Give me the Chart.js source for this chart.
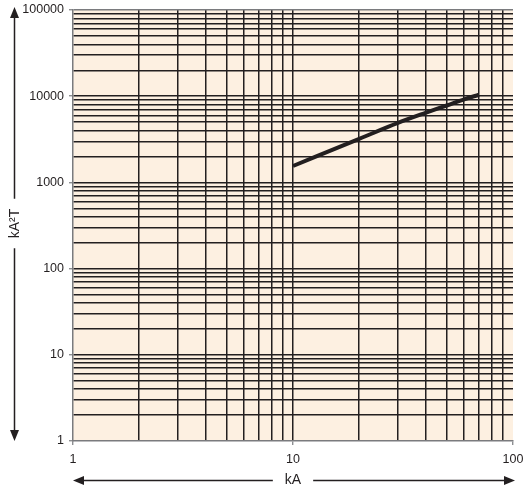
<!DOCTYPE html>
<html><head><meta charset="utf-8">
<script src="https://cdn.jsdelivr.net/npm/chart.js@4/dist/chart.umd.min.js"></script>
<style>html,body{margin:0;padding:0;background:#fff;overflow:hidden}</style>
</head><body>
<canvas id="c" width="523" height="493"></canvas>
<script>
// ---- data ----
const currentKA = [10, 20, 30, 40, 50, 60, 70];
const i2tValues = [1550, 3200, 4900, 6400, 7800, 9200, 10400];
const xTickLabels = ['1', '10', '100'];
const yTickLabels = ['1', '10', '100', '1000', '10000', '100000'];
const xTitle = 'kA';
const yTitle = 'kA\u00B2T';

const INK = '#231f20';
const AXIS_GRAY = '#7a7b7e';
const BG = '#fdf0e1';
const FONT = '"Liberation Sans", Arial, Helvetica, sans-serif';

function logGridValues(labels) {
  const majors = labels.map(Number);
  const vals = [];
  for (let i = 0; i < majors.length - 1; i++) {
    for (let m = 1; m <= 9; m++) vals.push(majors[i] * m);
  }
  vals.push(majors[majors.length - 1]);
  return vals;
}
function makeScale(labels, isX) {
  const majors = labels.map(Number);
  const gridVals = logGridValues(labels);
  const minV = majors[0], maxV = majors[majors.length - 1];
  return {
    type: 'logarithmic',
    min: minV, max: maxV,
    afterBuildTicks: (s) => { s.ticks = gridVals.map(v => ({ value: v, major: majors.includes(v) })); },
    afterFit: (s) => {
      if (isX) { s.height = 52; s.paddingLeft = 0; s.paddingRight = 0; }
      else { s.width = 73; s.paddingTop = 0; s.paddingBottom = 0; }
    },
    ticks: {
      autoSkip: false, maxRotation: 0, minRotation: 0,
      padding: isX ? 7 : 5,
      color: INK,
      font: { family: FONT, size: 12.5 },
      callback: (value) => { const i = majors.indexOf(value); return i >= 0 ? labels[i] : ''; }
    },
    grid: {
      color: (ctx) => {
        const v = ctx.tick ? ctx.tick.value : null;
        if (v === minV) return 'transparent';
        if (v === maxV) return isX ? 'transparent' : AXIS_GRAY;
        return INK;
      },
      lineWidth: 1.5,
      drawTicks: true,
      tickLength: 4,
      tickColor: (ctx) => (ctx.tick && ctx.tick.major) ? AXIS_GRAY : 'transparent',
      tickWidth: 1.2
    },
    border: { display: true, color: AXIS_GRAY, width: 1.5 },
    title: { display: false }
  };
}

const bgPlugin = {
  id: 'bg',
  beforeDraw(chart) {
    const a = chart.chartArea, c = chart.ctx;
    c.save(); c.fillStyle = BG; c.fillRect(a.left, a.top, a.right - a.left, a.bottom - a.top); c.restore();
  }
};

function arrowHead(c, x, y, dx, dy) {
  const L = 11, W = 4.5;
  const bx = x - dx * L, by = y - dy * L;
  c.beginPath();
  c.moveTo(x, y);
  c.lineTo(bx - dy * W, by + dx * W);
  c.lineTo(bx + dy * W, by - dx * W);
  c.closePath();
  c.fill();
}

const arrowPlugin = {
  id: 'arrows',
  afterDraw(chart) {
    const a = chart.chartArea, c = chart.ctx;
    c.save();
    c.strokeStyle = INK; c.fillStyle = INK; c.lineWidth = 1.5;
    c.font = '14px ' + FONT;
    // Y title with vertical double arrow
    const yx = 14.5;
    const yc = (a.top + a.bottom) / 2 - 2;
    const tw = c.measureText(yTitle).width;
    const gap = tw / 2 + 10;
    c.beginPath();
    c.moveTo(yx, a.top + 6); c.lineTo(yx, yc - gap);
    c.moveTo(yx, yc + gap); c.lineTo(yx, a.bottom - 6);
    c.stroke();
    arrowHead(c, yx, a.top - 3, 0, -1);
    arrowHead(c, yx, a.bottom, 0, 1);
    c.save();
    c.translate(yx + 0.5, yc);
    c.rotate(-Math.PI / 2);
    c.textAlign = 'center'; c.textBaseline = 'middle';
    c.fillText(yTitle, 0, 0);
    c.restore();
    // X title with horizontal double arrow
    const xy = 480.5;
    const xc = (a.left + a.right) / 2;
    const tw2 = c.measureText(xTitle).width;
    const gap2 = tw2 / 2 + 12;
    c.beginPath();
    c.moveTo(a.left + 6, xy); c.lineTo(xc - gap2, xy);
    c.moveTo(xc + gap2, xy); c.lineTo(a.right - 4, xy);
    c.stroke();
    arrowHead(c, a.left, xy, -1, 0);
    arrowHead(c, a.right + 2, xy, 1, 0);
    c.textAlign = 'center'; c.textBaseline = 'middle';
    c.fillText(xTitle, xc, xy);
    c.restore();
  }
};

new Chart(document.getElementById('c'), {
  type: 'line',
  data: {
    datasets: [{
      data: currentKA.map((x, i) => ({ x: x, y: i2tValues[i] })),
      borderColor: INK,
      borderWidth: 4,
      pointRadius: 0,
      fill: false,
      cubicInterpolationMode: 'monotone'
    }]
  },
  options: {
    responsive: false,
    animation: false,
    devicePixelRatio: 1,
    layout: { padding: { top: 10, right: 10, left: 0, bottom: 0 } },
    plugins: { legend: { display: false }, tooltip: { enabled: false } },
    scales: {
      x: makeScale(xTickLabels, true),
      y: makeScale(yTickLabels, false)
    }
  },
  plugins: [bgPlugin, arrowPlugin]
});
</script>
</body></html>
